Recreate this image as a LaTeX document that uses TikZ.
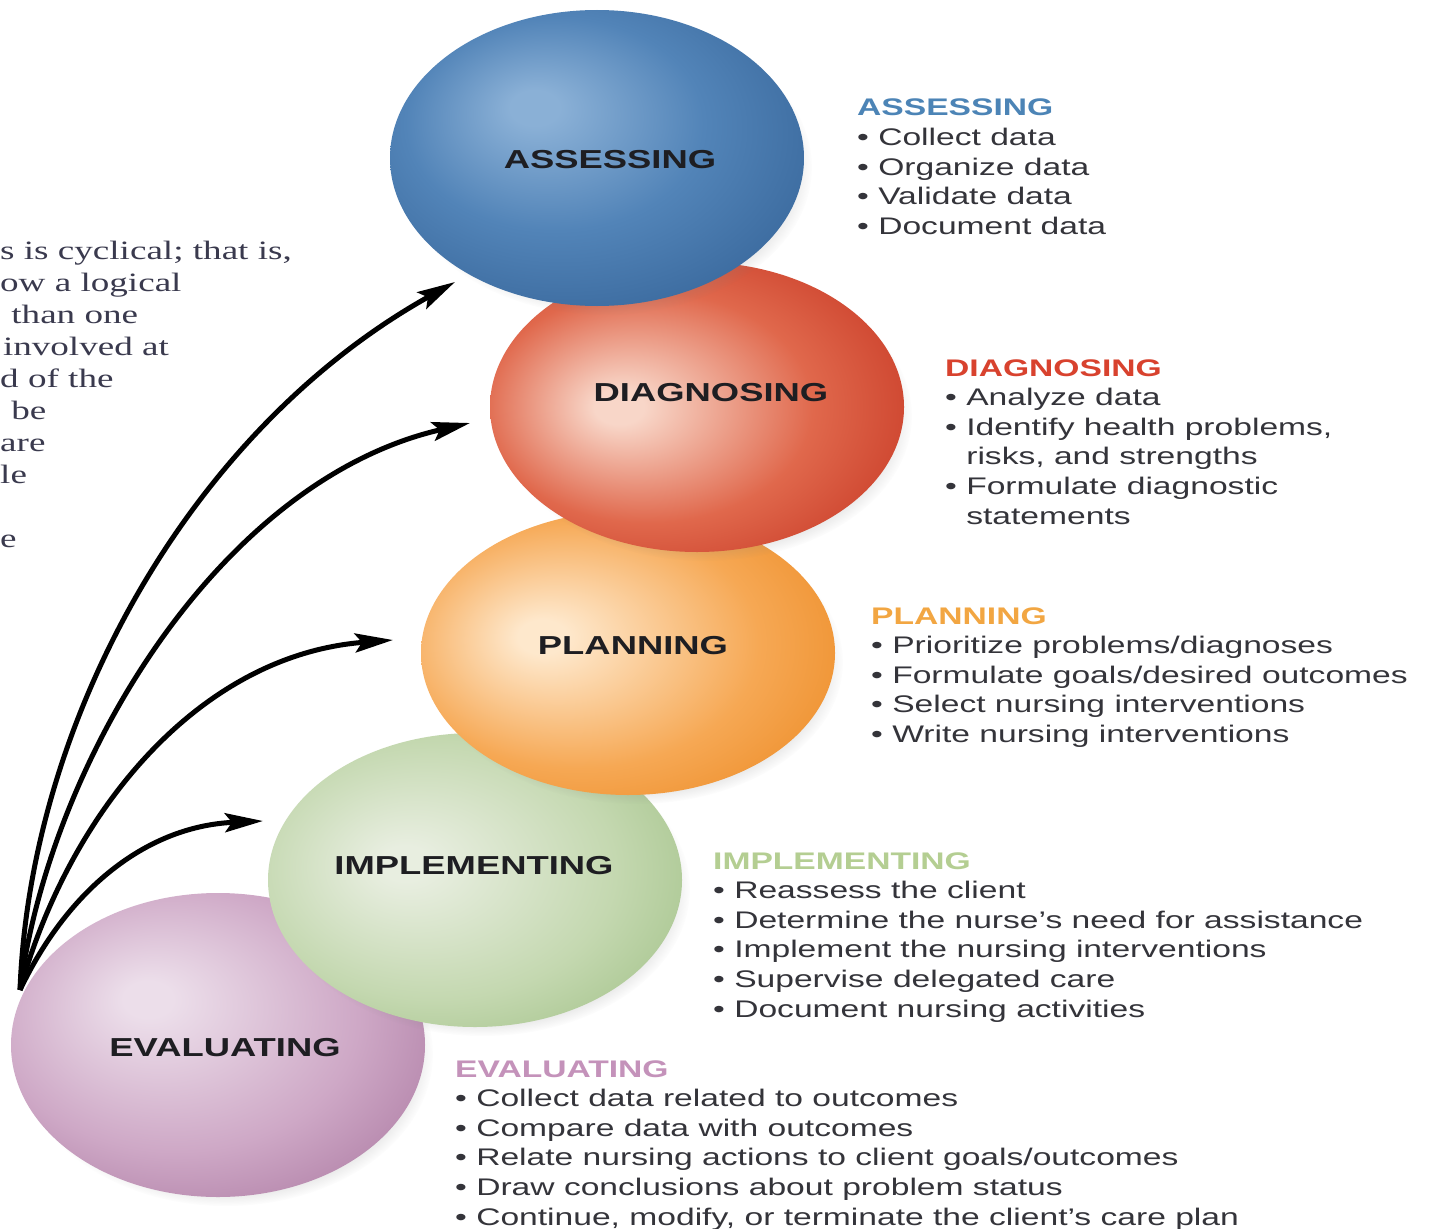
\documentclass[tikz,border=0pt]{standalone}
\usepackage{fontspec}
\setmainfont{Liberation Sans}
\newfontfamily\oldserif{Liberation Serif}
\usepackage{graphicx}
\usetikzlibrary{shapes.geometric,arrows.meta,shadows,fadings}

\definecolor{hlA}{RGB}{138,176,214}
\definecolor{mdA}{RGB}{82,132,184}
\definecolor{dkA}{RGB}{52,98,150}
\definecolor{hlD}{RGB}{248,214,200}
\definecolor{mdD}{RGB}{224,104,76}
\definecolor{dkD}{RGB}{200,58,38}
\definecolor{hlP}{RGB}{254,232,204}
\definecolor{mdP}{RGB}{246,168,84}
\definecolor{dkP}{RGB}{236,138,36}
\definecolor{hlI}{RGB}{232,238,224}
\definecolor{mdI}{RGB}{196,216,176}
\definecolor{dkI}{RGB}{160,192,134}
\definecolor{hlE}{RGB}{236,222,234}
\definecolor{mdE}{RGB}{206,168,198}
\definecolor{dkE}{RGB}{172,122,162}

\definecolor{hA}{RGB}{76,132,182}
\definecolor{hD}{RGB}{216,66,46}
\definecolor{hP}{RGB}{242,166,66}
\definecolor{hI}{RGB}{180,206,146}
\definecolor{hE}{RGB}{196,146,186}
\definecolor{bodyc}{RGB}{52,52,58}
\definecolor{lblc}{RGB}{30,30,34}
\definecolor{sidec}{RGB}{58,58,78}

\pgfdeclareradialshading{shA}{\pgfpoint{-8bp}{9bp}}{color(0bp)=(hlA); color(3bp)=(hlA); color(18bp)=(mdA); color(36bp)=(dkA); color(50bp)=(dkA)}
\pgfdeclareradialshading{shD}{\pgfpoint{-10bp}{0bp}}{color(0bp)=(hlD); color(3bp)=(hlD); color(20bp)=(mdD); color(34bp)=(dkD); color(50bp)=(dkD)}
\pgfdeclareradialshading{shP}{\pgfpoint{-11bp}{3bp}}{color(0bp)=(hlP); color(3bp)=(hlP); color(22bp)=(mdP); color(36bp)=(dkP); color(50bp)=(dkP)}
\pgfdeclareradialshading{shI}{\pgfpoint{-9bp}{3bp}}{color(0bp)=(hlI); color(3bp)=(hlI); color(22bp)=(mdI); color(36bp)=(dkI); color(50bp)=(dkI)}
\pgfdeclareradialshading{shE}{\pgfpoint{-9bp}{8bp}}{color(0bp)=(hlE); color(3bp)=(hlE); color(22bp)=(mdE); color(36bp)=(dkE); color(50bp)=(dkE)}

\newcommand\wide[1]{\scalebox{1.4}[1]{#1}}
\newcommand\lines[1]{\wide{\begin{tabular}[t]{@{}l@{}}#1\end{tabular}}}
\newcommand\bul{\textbullet\ }
\newcommand\nobul{\phantom{\textbullet\ }}

\begin{document}
\begin{tikzpicture}[x=1pt,y=-1pt,
  orb/.style={ellipse, inner sep=0pt, minimum width=414pt,
    circular drop shadow={shadow xshift=8pt, shadow yshift=-9pt, opacity=0.3, shadow scale=1.0}},
  lbl/.style={inner sep=0pt, text=lblc, font=\fontsize{26}{30}\selectfont\bfseries},
  blk/.style={anchor=base west, inner sep=0pt, text=bodyc, font=\fontsize{24}{29.6}\selectfont},
  sideblk/.style={anchor=base west, inner sep=0pt, text=sidec, font=\oldserif\fontsize{26.5}{32}\selectfont},
  conn/.style={line width=5pt, draw=black, -{Stealth[length=38pt,width=19pt,inset=7pt]}}]

\fill[white] (0,0) rectangle (1431,1228);
\useasboundingbox (0,0) rectangle (1431,1228);

% side text (cut off at the left edge)
\node[sideblk] (side) at (0,259) {\lines{s is cyclical; that is,\\ ow a logical\\ \hspace{8pt}than one\\ \hspace{2pt}involved at\\ d of the\\ \hspace{8pt}be\\ are\\ le\\ \\ e}};

% balls, lowest first
\node[orb, minimum height=304pt, shading=shE] (E) at (218,1045) {};
\node[orb, minimum height=294pt, shading=shI] (I) at (475,880) {};
\node[orb, minimum height=284pt, shading=shP] (P) at (628,653) {};
\node[orb, minimum height=290pt, shading=shD] (D) at (697,407) {};
\node[orb, minimum height=296pt, shading=shA] (A) at (597,158) {};

\node[lbl] (Albl) at (610,160) {\wide{ASSESSING}};
\node[lbl] (Dlbl) at (711,393) {\wide{DIAGNOSING}};
\node[lbl] (Plbl) at (633,646) {\wide{PLANNING}};
\node[lbl] (Ilbl) at (474,866) {\wide{IMPLEMENTING}};
\node[lbl] (Elbl) at (225,1048) {\wide{EVALUATING}};

% text blocks
\node[blk] (Atx) at (857,116) {\lines{\textcolor{hA}{\bfseries ASSESSING}\\ \bul Collect data\\ \bul Organize data\\ \bul Validate data\\ \bul Document data}};
\node[blk] (Dtx) at (945,376) {\lines{\textcolor{hD}{\bfseries DIAGNOSING}\\ \bul Analyze data\\ \bul Identify health problems,\\ \nobul risks, and strengths\\ \bul Formulate diagnostic\\ \nobul statements}};
\node[blk] (Ptx) at (871,624) {\lines{\textcolor{hP}{\bfseries PLANNING}\\ \bul Prioritize problems/diagnoses\\ \bul Formulate goals/desired outcomes\\ \bul Select nursing interventions\\ \bul Write nursing interventions}};
\node[blk] (Itx) at (713,869) {\lines{\textcolor{hI}{\bfseries IMPLEMENTING}\\ \bul Reassess the client\\ \bul Determine the nurse’s need for assistance\\ \bul Implement the nursing interventions\\ \bul Supervise delegated care\\ \bul Document nursing activities}};
\node[blk] (Etx) at (455,1077) {\lines{\textcolor{hE}{\bfseries EVALUATING}\\ \bul Collect data related to outcomes\\ \bul Compare data with outcomes\\ \bul Relate nursing actions to client goals/outcomes\\ \bul Draw conclusions about problem status\\ \bul Continue, modify, or terminate the client’s care plan}};

% arrows
\coordinate (hub) at (20,990);
\coordinate (tA) at (455,282);
\coordinate (tD) at (470,423);
\coordinate (tP) at (393,640);
\coordinate (tI) at (263,821);
\draw[conn] (hub) .. controls (30,720) and (190,430) .. (tA);
\draw[conn] (hub) .. controls (50,760) and (220,480) .. (tD);
\draw[conn] (hub) .. controls (70,810) and (200,655) .. (tP);
\draw[conn] (hub) .. controls (70,885) and (150,826) .. (tI);
\end{tikzpicture}
\end{document}
